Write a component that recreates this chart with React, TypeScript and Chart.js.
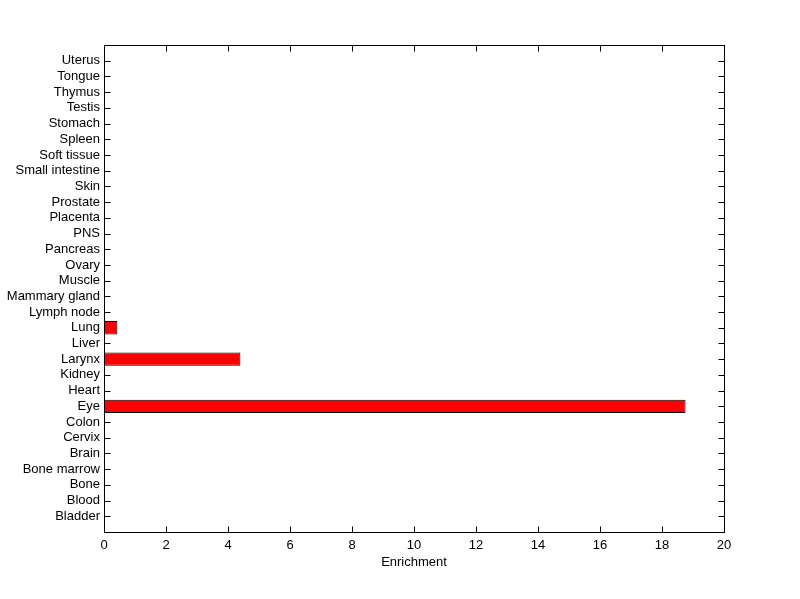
import React, { useEffect, useRef } from 'react';
import { Chart, registerables } from 'chart.js';

Chart.register(...registerables);

const categories = [
  'Bladder', 'Blood', 'Bone', 'Bone marrow', 'Brain', 'Cervix', 'Colon', 'Eye',
  'Heart', 'Kidney', 'Larynx', 'Liver', 'Lung', 'Lymph node', 'Mammary gland',
  'Muscle', 'Ovary', 'Pancreas', 'PNS', 'Placenta', 'Prostate', 'Skin',
  'Small intestine', 'Soft tissue', 'Spleen', 'Stomach', 'Testis', 'Thymus',
  'Tongue', 'Uterus',
];
const enrichment = [
  0, 0, 0, 0, 0, 0, 0, 18.76,
  0, 0, 4.4, 0, 0.43, 0, 0,
  0, 0, 0, 0, 0, 0, 0,
  0, 0, 0, 0, 0, 0,
  0, 0,
];
const xMin = 0;
const xMax = 20;
const xStep = 2;
const xTitle = 'Enrichment';

const FONT = "'Liberation Sans', Arial, Helvetica, sans-serif";
const FONT_SIZE = 13;

const boxTicksPlugin = {
  id: 'boxTicks',
  beforeDatasetsDraw(chart: any) {
    const { ctx, chartArea } = chart;
    const xs = chart.scales.x;
    const ys = chart.scales.y;
    const left = Math.round(chartArea.left) + 0.5;
    const right = Math.round(chartArea.right) + 0.5;
    const top = Math.round(chartArea.top) + 0.5;
    const bottom = Math.round(chartArea.bottom) + 0.5;
    const L = 6;
    ctx.save();
    ctx.strokeStyle = '#000';
    ctx.lineWidth = 1;
    ctx.beginPath();
    xs.ticks.forEach((_t: any, i: number) => {
      const px = Math.round(xs.getPixelForTick(i)) + 0.5;
      ctx.moveTo(px, bottom);
      ctx.lineTo(px, bottom - L);
      ctx.moveTo(px, top);
      ctx.lineTo(px, top + L);
    });
    ys.ticks.forEach((t: any, i: number) => {
      const lbl = ys.getLabelForValue(t.value);
      if (!lbl) return;
      const py = Math.round(ys.getPixelForTick(i)) + 0.5;
      ctx.moveTo(left, py);
      ctx.lineTo(left + L, py);
      ctx.moveTo(right, py);
      ctx.lineTo(right - L, py);
    });
    ctx.stroke();
    ctx.restore();
  },
  afterDraw(chart: any) {
    const { ctx, chartArea } = chart;
    const left = Math.round(chartArea.left) + 0.5;
    const right = Math.round(chartArea.right) + 0.5;
    const top = Math.round(chartArea.top) + 0.5;
    const bottom = Math.round(chartArea.bottom) + 0.5;
    ctx.save();
    ctx.strokeStyle = '#000';
    ctx.lineWidth = 1;
    ctx.strokeRect(left, top, right - left, bottom - top);
    ctx.restore();
  },
};

export default function App() {
  const ref = useRef<HTMLCanvasElement | null>(null);

  useEffect(() => {
    document.body.style.margin = '0';
    const canvas = ref.current;
    if (!canvas) return;
    const labels = ['', ...categories, ''];
    const values = [null, ...enrichment, null];
    const chart = new Chart(canvas, {
      type: 'bar',
      data: {
        labels,
        datasets: [
          {
            data: values as any,
            backgroundColor: '#ff0000',
            borderColor: '#000000',
            borderWidth: 1,
            borderSkipped: false,
            categoryPercentage: 1,
            barPercentage: 0.85,
          },
        ],
      },
      options: {
        indexAxis: 'y',
        animation: false,
        responsive: false,
        events: [],
        layout: { padding: { top: 45, right: 76, left: 0, bottom: 29 } },
        plugins: {
          legend: { display: false },
          tooltip: { enabled: false },
        },
        scales: {
          x: {
            type: 'linear',
            min: xMin,
            max: xMax,
            grid: { display: false, drawTicks: false },
            border: { display: false },
            ticks: {
              stepSize: xStep,
              color: '#000',
              padding: 6,
              font: { family: FONT, size: FONT_SIZE },
            },
            title: {
              display: true,
              text: xTitle,
              color: '#000',
              font: { family: FONT, size: FONT_SIZE },
              padding: { top: 2, bottom: 0 },
            },
            afterFit: (s: any) => {
              s.height = 38;
            },
          },
          y: {
            type: 'category',
            reverse: true,
            offset: false,
            grid: { display: false, drawTicks: false },
            border: { display: false },
            ticks: {
              autoSkip: false,
              color: '#000',
              padding: 4,
              font: { family: FONT, size: FONT_SIZE },
            },
            afterFit: (s: any) => {
              s.width = 104;
            },
          },
        },
      },
      plugins: [boxTicksPlugin],
    });
    return () => chart.destroy();
  }, []);

  return <canvas ref={ref} width={800} height={599} style={{ display: 'block', background: '#fff' }} />;
}
